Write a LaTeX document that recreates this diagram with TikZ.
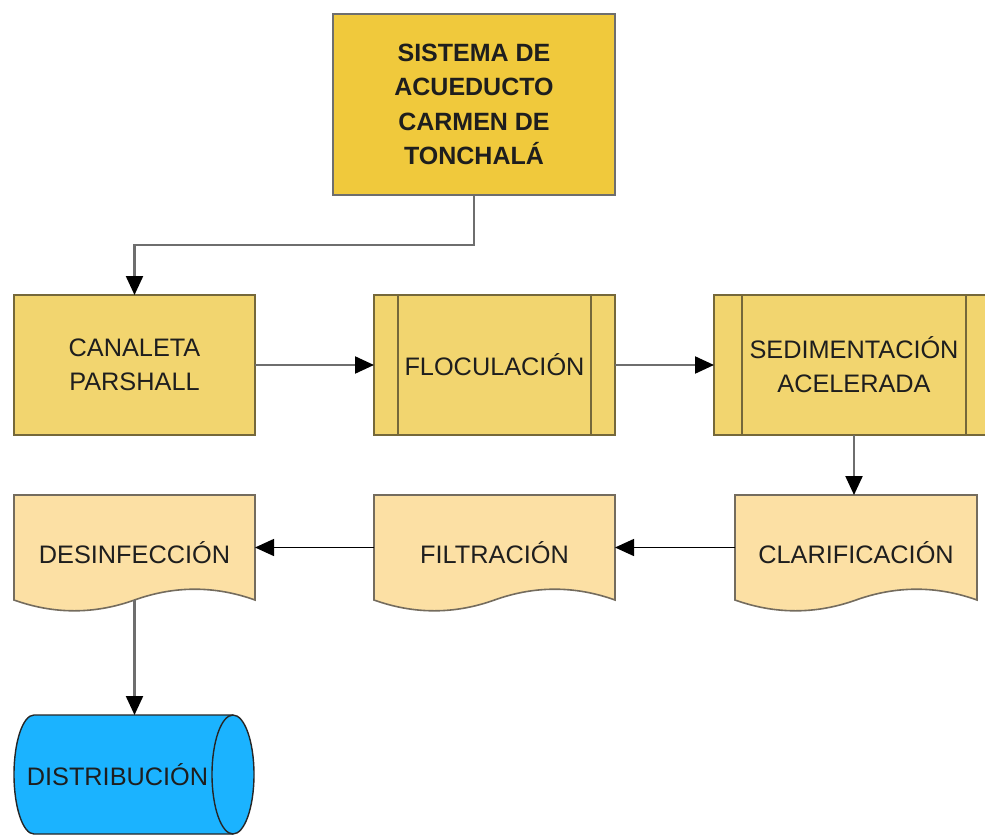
\documentclass[tikz,border=0pt]{standalone}
\usepackage{fontspec}
\setmainfont{Liberation Sans}
\usetikzlibrary{arrows.meta,calc}

\definecolor{topfill}{HTML}{F0C93C}
\definecolor{procfill}{HTML}{F2D56F}
\definecolor{docfill}{HTML}{FCE0A4}
\definecolor{cylfill}{HTML}{1BB3FF}
\definecolor{greyline}{HTML}{6E6E6E}
\definecolor{procline}{HTML}{75683A}
\definecolor{docline}{HTML}{746C5E}
\definecolor{txt}{HTML}{1E1E1E}

% bottom-waved document outline: #1 left x, #2 right x
\newcommand\docoutline[2]{%
  \pgfmathsetmacro\dw{#2-#1}%
  \draw[docbox] (#1,495) -- (#2,495) -- (#2,600)
    .. controls ({#2-\dw/6},585.6) and ({#1+\dw/2+\dw/6},585.6) .. ({#1+\dw/2},600)
    .. controls ({#1+\dw/2-\dw/6},614.4) and ({#1+\dw/6},614.4) .. (#1,600) -- cycle;}
% label text sitting a little below the centre of a document shape
\newcommand\doctext[1]{\raisebox{-15.5pt}[0pt][0pt]{#1}}

\tikzset{
  lbl/.style={font=\fontsize{25.3}{34}\selectfont, text=txt, align=center,
    inner sep=0pt, outer sep=0pt},
  topbox/.style={lbl, draw=greyline, line width=2pt, fill=topfill,
    font=\fontsize{25}{34.5}\selectfont\bfseries,
    minimum width=282pt, minimum height=181pt},
  procbox/.style={lbl, draw=procline, line width=2pt, fill=procfill,
    minimum height=140pt},
  docbox/.style={draw=docline, line width=1.6pt, fill=docfill},
  doclabel/.style={lbl, minimum height=105pt},
  innerline/.style={draw=procline, line width=2pt},
  cyl/.style={draw=black!85, line width=1.4pt, fill=cylfill},
  tip/.style={-{Triangle[length=19pt,width=17pt,black]}},
  greyconn/.style={tip, draw=greyline, line width=2.2pt},
  blackconn/.style={tip, draw=black, line width=1.4pt},
}

\begin{document}
\begin{tikzpicture}[x=1pt, y=-1pt]
\clip (0,0) rectangle (985,835);
\fill[white] (0,0) rectangle (985,835);

% head box
\node[topbox] (top) at (474,104.5) {SISTEMA DE\\ACUEDUCTO\\CARMEN DE\\TONCHALÁ};

% first row
\node[procbox, minimum width=241pt] (can) at (134.5,365) {CANALETA\\PARSHALL};
\node[procbox, minimum width=241pt] (floc) at (494.5,365) {FLOCULACIÓN};
\draw[innerline] (398,295) -- (398,435) (591,295) -- (591,435);
\node[procbox, minimum width=280pt] (sed) at (854,365) {SEDIMENTACIÓN\\ACELERADA};
\draw[innerline] (742,295) -- (742,435) (966,295) -- (966,435);

% second row
\docoutline{735}{977}
\node[doclabel, minimum width=242pt] (clar) at (856,547.5) {\doctext{CLARIFICACIÓN}};
\docoutline{374}{615}
\node[doclabel, minimum width=241pt] (filt) at (494.5,547.5) {\doctext{FILTRACIÓN}};
\docoutline{14}{255}
\node[doclabel, minimum width=241pt] (desinf) at (134.5,547.5) {\doctext{DESINFECCIÓN}};

% storage cylinder
\draw[cyl] (34,715) -- (233,715)
  .. controls (244.6,715) and (254,741.6) .. (254,774.5)
  .. controls (254,807.4) and (244.6,834) .. (233,834)
  -- (34,834)
  .. controls (22.95,834) and (14,807.4) .. (14,774.5)
  .. controls (14,741.6) and (22.95,715) .. (34,715) -- cycle;
\draw[cyl, fill=none] (233,715)
  .. controls (221.4,715) and (212,741.6) .. (212,774.5)
  .. controls (212,807.4) and (221.4,834) .. (233,834);
\node[lbl, minimum height=119pt, minimum width=190pt] (dist) at (117.5,774.5) {DISTRIBUCIÓN};

% connectors
\draw[greyconn] (top.south) -- ++(0,50) -| (can.north);
\draw[greyconn] (can.east) -- (floc.west);
\draw[greyconn] (floc.east) -- (sed.west);
\draw[greyconn] (sed.south) -- (sed.south |- clar.north);
\draw[blackconn] (clar.west) -- (filt.east);
\draw[blackconn] (filt.west) -- (desinf.east);
\draw[greyconn] (desinf.south) -- (desinf.south |- dist.north);
\end{tikzpicture}
\end{document}
